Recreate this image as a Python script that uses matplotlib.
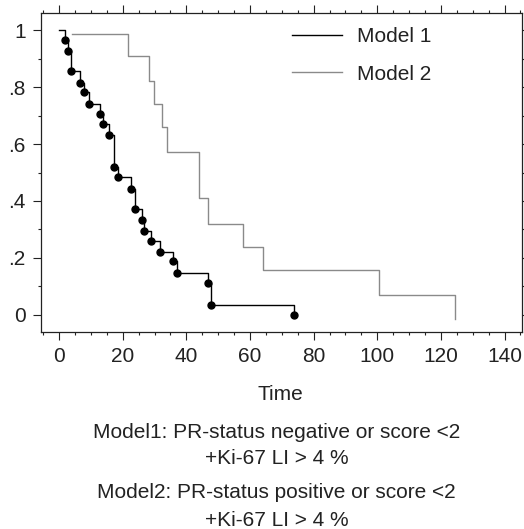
import numpy as np
import matplotlib.pyplot as plt
from matplotlib.ticker import MultipleLocator

plt.rcParams['font.family'] = ['Liberation Sans', 'DejaVu Sans']

# Model 1: event times and survival after each event
m1_time = [0, 1.7, 2.9, 3.8, 6.6, 7.7, 9.5, 12.9, 13.9, 15.8, 17.1, 18.5,
           22.6, 23.8, 26.0, 26.8, 29.0, 31.7, 35.7, 37.0, 46.9, 47.6, 73.9]
m1_surv = [1.0, 0.967, 0.927, 0.856, 0.815, 0.781, 0.739, 0.705, 0.672, 0.630,
           0.521, 0.485, 0.442, 0.373, 0.335, 0.296, 0.261, 0.221, 0.188,
           0.146, 0.111, 0.036, 0.0]

# Model 2
m2_time = [4.0, 21.8, 28.3, 29.9, 32.2, 33.8, 44.1, 46.9, 57.7, 64.0, 100.4, 124.4]
m2_surv = [0.988, 0.910, 0.821, 0.740, 0.661, 0.571, 0.409, 0.319, 0.240,
           0.158, 0.069, -0.015]

ytick_vals = [0, 0.2, 0.4, 0.6, 0.8, 1.0]
ytick_labels = ['0', '.2', '.4', '.6', '.8', '1']

fig = plt.figure(figsize=(5.24, 5.29), dpi=100)
ax = fig.add_axes([0.0782, 0.3724, 0.918, 0.603])

# first point of model 1 is a flat start, the rest get dots
t1 = [m1_time[0]] + [1.4] + m1_time[1:]
s1 = [m1_surv[0]] + [1.0] + m1_surv[1:]
ax.step(t1, s1, where='post', color='black', lw=1.0, label='Model 1')
ax.plot(m1_time[1:], m1_surv[1:], 'o', color='black', ms=5)

ax.step(m2_time, m2_surv, where='post', color='#8a8a8a', lw=1.0, label='Model 2')

ax.set_xlim(-5.7, 145.5)
ax.set_ylim(-0.06, 1.06)
ax.set_xticks(np.arange(0, 141, 20))
ax.xaxis.set_minor_locator(MultipleLocator(5))
ax.set_yticks(ytick_vals)
ax.set_yticklabels(ytick_labels)
ax.yaxis.set_minor_locator(MultipleLocator(0.1))

ax.tick_params(which='both', direction='out', top=True, right=True,
               labelsize=15, colors='#222222', width=0.8)
ax.tick_params(which='major', length=6, pad=5)
ax.tick_params(which='minor', length=2.5)
for sp in ax.spines.values():
    sp.set_linewidth(0.9)
    sp.set_color('#222222')

ax.legend(loc='upper right', bbox_to_anchor=(0.85, 1.015), frameon=False,
          fontsize=15, handlelength=2.4, labelspacing=0.9, handletextpad=0.7,
          labelcolor='#222222')

fig.text(0.536, 1 - 395 / 529, 'Time', ha='center', va='center', fontsize=15,
         color='#222222')
fig.text(0.528, 1 - 432 / 529, 'Model1: PR-status negative or score <2',
         ha='center', va='center', fontsize=15, color='#222222')
fig.text(0.528, 1 - 458 / 529, '+Ki-67 LI > 4 %',
         ha='center', va='center', fontsize=15, color='#222222')
fig.text(0.528, 1 - 493 / 529, 'Model2: PR-status positive or score <2',
         ha='center', va='center', fontsize=15, color='#222222')
fig.text(0.528, 1 - 520 / 529, '+Ki-67 LI > 4 %',
         ha='center', va='center', fontsize=15, color='#222222')

fig.savefig('out.png', dpi=100)
